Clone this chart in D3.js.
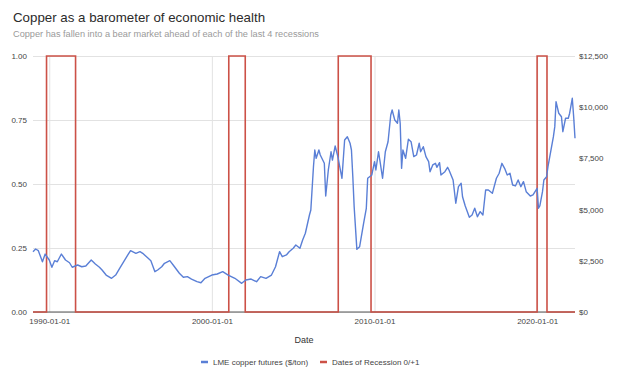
<!DOCTYPE html>
<html lang="en">
<head>
    <meta charset="UTF-8">
    <title>Copper as a barometer of economic health</title>
    <script src="https://d3js.org/d3.v7.min.js"></script>
    <style>
        body { margin: 0; background: #fff; }
        svg { font-family: Arial, "Liberation Sans", sans-serif; }
        .grid line { stroke: #e2e2e2; stroke-width: 1; }
        .grid path { display: none; }
        .axis path { display: none; }
        .axis line { display: none; }
        .axis text { fill: #444; font-size: 8px; }
    </style>
</head>
<body>
    <svg width="624" height="379"></svg>
    <script>
        // Copper price, LME futures ($/ton)
        const copperSeries = [
            ["1989-01", 2945], ["1989-03", 3075], ["1989-05", 2995], ["1989-08", 2455], ["1989-10", 2830],
            ["1990-01", 2540], ["1990-03", 2185], ["1990-05", 2505], ["1990-07", 2455], ["1990-10", 2830],
            ["1991-01", 2540], ["1991-04", 2405], ["1991-06", 2185], ["1991-10", 2295],
            ["1992-01", 2210], ["1992-04", 2245], ["1992-08", 2540], ["1992-11", 2345],
            ["1993-02", 2185], ["1993-04", 2050], ["1993-07", 1805], ["1993-11", 1645],
            ["1994-02", 1805], ["1994-05", 2135], ["1994-08", 2455], ["1994-11", 2785],
            ["1995-01", 2995], ["1995-05", 2865], ["1995-08", 2945], ["1995-10", 2865],
            ["1996-02", 2620], ["1996-04", 2505], ["1996-07", 1970], ["1996-09", 2050], ["1996-12", 2210],
            ["1997-02", 2380], ["1997-06", 2505], ["1997-09", 2245],
            ["1998-01", 1890], ["1998-04", 1695], ["1998-07", 1725], ["1998-10", 1610],
            ["1999-02", 1480], ["1999-05", 1430], ["1999-08", 1645],
            ["2000-01", 1805], ["2000-05", 1855], ["2000-09", 1970],
            ["2001-01", 1805], ["2001-06", 1645], ["2001-11", 1400],
            ["2002-02", 1565], ["2002-06", 1610], ["2002-10", 1480],
            ["2003-01", 1725], ["2003-05", 1645], ["2003-09", 1805], ["2003-12", 2210],
            ["2004-03", 2945], ["2004-05", 2700], ["2004-08", 2785], ["2004-10", 2945],
            ["2005-01", 3110], ["2005-03", 3270], ["2005-06", 3110], ["2005-08", 3515], ["2005-10", 3845],
            ["2006-01", 4735], ["2006-02", 4980], ["2006-04", 7095], ["2006-05", 7910], ["2006-06", 7505],
            ["2006-08", 7910], ["2006-09", 7665], ["2006-12", 7260],
            ["2007-01", 5665], ["2007-03", 6935], ["2007-05", 7825], ["2007-06", 7420], ["2007-08", 8105], ["2007-10", 7585],
            ["2008-01", 6530], ["2008-03", 8400], ["2008-05", 8560], ["2008-07", 8240], ["2008-08", 7910],
            ["2008-09", 6605], ["2008-10", 5140], ["2008-12", 3060],
            ["2009-02", 3190], ["2009-05", 4330], ["2009-07", 5065], ["2009-08", 6530], ["2009-11", 6690],
            ["2010-01", 7340], ["2010-02", 6935], ["2010-04", 7825], ["2010-05", 7420], ["2010-07", 6530],
            ["2010-09", 7825], ["2010-11", 8315],
            ["2011-01", 9620], ["2011-02", 9865], ["2011-04", 9375], ["2011-06", 9215], ["2011-07", 9865],
            ["2011-08", 9215], ["2011-09", 7015], ["2011-10", 7910], ["2011-12", 7505],
            ["2012-02", 8435], ["2012-04", 8315], ["2012-06", 7585], ["2012-08", 7665], ["2012-10", 8240], ["2012-11", 7825],
            ["2013-01", 8070], ["2013-03", 7585], ["2013-05", 7340], ["2013-06", 6850], ["2013-08", 7180],
            ["2013-10", 7260], ["2013-11", 7065],
            ["2014-01", 7290], ["2014-02", 6690], ["2014-05", 6850], ["2014-07", 7065], ["2014-08", 6935], ["2014-11", 6445],
            ["2015-01", 5310], ["2015-03", 6120], ["2015-05", 6285], ["2015-06", 5630], ["2015-08", 5175], ["2015-11", 4625],
            ["2016-01", 4735], ["2016-03", 5065], ["2016-05", 4655], ["2016-07", 4900], ["2016-09", 4735], ["2016-11", 5955],
            ["2017-01", 5955], ["2017-04", 5795], ["2017-07", 6530], ["2017-09", 6775], ["2017-11", 7260],
            ["2018-01", 7015], ["2018-03", 6690], ["2018-05", 6775], ["2018-07", 6200], ["2018-09", 6155], ["2018-11", 6445],
            ["2019-01", 6120], ["2019-03", 6365], ["2019-05", 5875], ["2019-08", 5665], ["2019-10", 5715],
            ["2020-01", 6040], ["2020-02", 5065], ["2020-03", 5175], ["2020-05", 5875], ["2020-06", 6445],
            ["2020-08", 6605], ["2020-09", 7095], ["2020-11", 7825],
            ["2021-01", 8560], ["2021-02", 9050], ["2021-03", 10270], ["2021-05", 9705], ["2021-07", 9535],
            ["2021-08", 8805], ["2021-10", 9460], ["2021-12", 9460],
            ["2022-01", 9705], ["2022-03", 10435], ["2022-04", 9535], ["2022-05", 8480]
        ];

        // Recession flag 0/+1 (step series)
        const recessionSeries = [
            ["1989-01-01", 0], ["1989-11-01", 0], ["1989-11-01", 1], ["1991-08-15", 1], ["1991-08-15", 0],
            ["2001-01-15", 0], ["2001-01-15", 1], ["2002-01-20", 1], ["2002-01-20", 0],
            ["2007-10-10", 0], ["2007-10-10", 1], ["2009-10-15", 1], ["2009-10-15", 0],
            ["2020-01-01", 0], ["2020-01-01", 1], ["2020-08-10", 1], ["2020-08-10", 0],
            ["2022-05-01", 0]
        ];

        const leftTicks = [0, 0.25, 0.5, 0.75, 1];
        const rightTicks = [0, 2500, 5000, 7500, 10000, 12500];
        const xTicks = ["1990-01-01", "2000-01-01", "2010-01-01", "2020-01-01"];

        const parseMonth = d3.timeParse("%Y-%m");
        const parseDay = d3.timeParse("%Y-%m-%d");

        const copper = copperSeries.map(d => ({ date: parseMonth(d[0]), value: d[1] }));
        const recession = recessionSeries.map(d => ({ date: parseDay(d[0]), value: d[1] }));

        const margin = { top: 56, right: 49, bottom: 67, left: 33 },
              width = 624 - margin.left - margin.right,
              height = 379 - margin.top - margin.bottom;

        const svg = d3.select("svg");

        // title + subtitle
        svg.append("text")
            .attr("x", 13).attr("y", 22)
            .style("font-size", "13.3px").style("fill", "#2b2b2b")
            .text("Copper as a barometer of economic health");
        svg.append("text")
            .attr("x", 13).attr("y", 37)
            .style("font-size", "9.2px").style("fill", "#9a9a9a")
            .text("Copper has fallen into a bear market ahead of each of the last 4 recessions");

        const g = svg.append("g")
            .attr("transform", "translate(" + margin.left + "," + margin.top + ")");

        const x = d3.scaleTime()
            .domain([parseMonth("1989-01"), parseMonth("2022-05")])
            .range([0, width]);
        const yLeft = d3.scaleLinear().domain([0, 1]).range([height, 0]);
        const yRight = d3.scaleLinear().domain([0, 12500]).range([height, 0]);

        // grid
        g.append("g").attr("class", "grid")
            .call(d3.axisLeft(yLeft).tickValues(leftTicks).tickSize(-width).tickFormat(""));
        g.append("g").attr("class", "grid")
            .call(d3.axisBottom(x).tickValues(xTicks.map(parseDay)).tickSize(height).tickFormat(""));

        // baseline
        g.append("line")
            .attr("x1", 0).attr("x2", width)
            .attr("y1", height).attr("y2", height)
            .attr("stroke", "#555").attr("stroke-width", 1);

        // axes
        g.append("g").attr("class", "axis")
            .call(d3.axisLeft(yLeft).tickValues(leftTicks).tickFormat(d3.format(".2f")).tickSize(0).tickPadding(6));
        g.append("g").attr("class", "axis")
            .attr("transform", "translate(" + width + ",0)")
            .call(d3.axisRight(yRight).tickValues(rightTicks).tickFormat(d => "$" + d3.format(",")(d)).tickSize(0).tickPadding(4));
        g.append("g").attr("class", "axis")
            .attr("transform", "translate(0," + height + ")")
            .call(d3.axisBottom(x).tickValues(xTicks.map(parseDay)).tickFormat(d3.timeFormat("%Y-%m-%d")).tickSize(0).tickPadding(6));

        // axis title
        g.append("text")
            .attr("x", width / 2).attr("y", height + 31)
            .attr("text-anchor", "middle")
            .style("font-size", "9px").style("fill", "#333")
            .text("Date");

        // lines
        const copperLine = d3.line().x(d => x(d.date)).y(d => yRight(d.value));
        const recessionLine = d3.line().x(d => x(d.date)).y(d => yLeft(d.value));

        g.append("path")
            .datum(recession)
            .attr("fill", "none")
            .attr("stroke", "#cc5147")
            .attr("stroke-width", 1.6)
            .attr("d", recessionLine);

        g.append("path")
            .datum(copper)
            .attr("fill", "none")
            .attr("stroke", "#5a7fd6")
            .attr("stroke-width", 1.4)
            .attr("stroke-linejoin", "round")
            .attr("d", copperLine);

        // legend
        const legend = [
            { label: "LME copper futures ($/ton)", color: "#5a7fd6", x: 201 },
            { label: "Dates of Recession 0/+1", color: "#cc5147", x: 320 }
        ];
        const lg = svg.append("g");
        legend.forEach(function(d) {
            lg.append("line")
                .attr("x1", d.x).attr("x2", d.x + 7)
                .attr("y1", 362).attr("y2", 362)
                .attr("stroke", d.color).attr("stroke-width", 2.5);
            lg.append("text")
                .attr("x", d.x + 12).attr("y", 365)
                .style("font-size", "8px").style("fill", "#444")
                .text(d.label);
        });
    </script>
</body>
</html>
